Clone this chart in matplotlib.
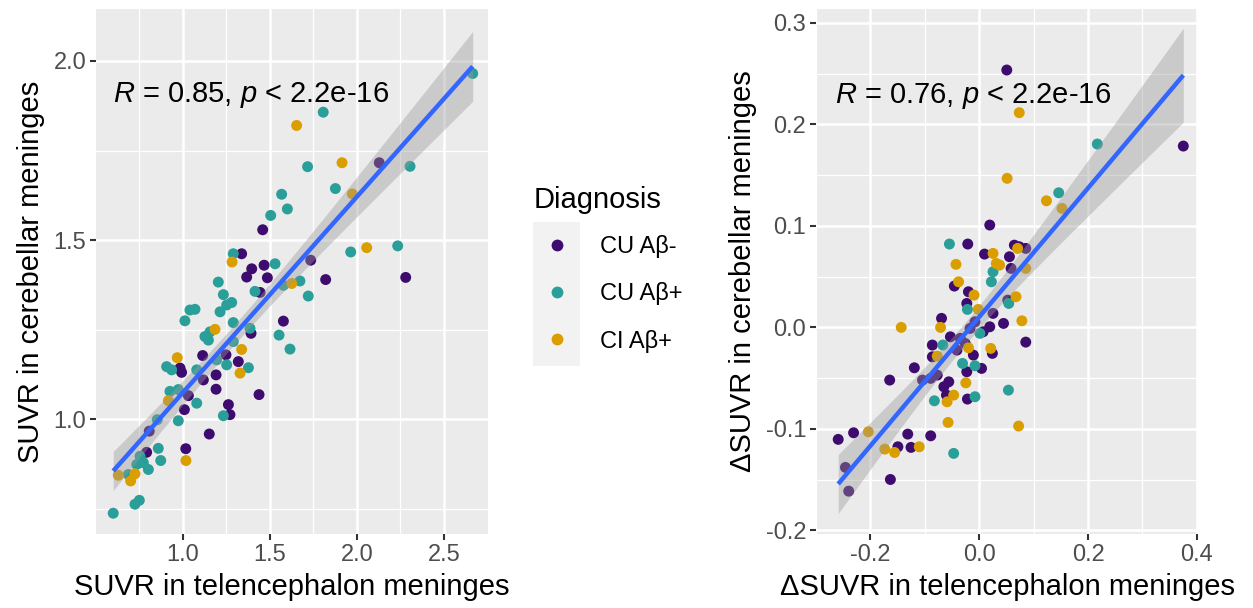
import numpy as np
import matplotlib
matplotlib.use("Agg")
import matplotlib.pyplot as plt
from matplotlib.lines import Line2D
from matplotlib.patches import Rectangle

plt.rcParams['font.family'] = ['Liberation Sans', 'DejaVu Sans']
plt.rcParams['mathtext.fontset'] = 'custom'
plt.rcParams['mathtext.it'] = 'Liberation Sans:italic'
plt.rcParams['mathtext.rm'] = 'Liberation Sans'
plt.rcParams['axes.unicode_minus'] = False

groups = ["CU Aβ-", "CU Aβ+", "CI Aβ+"]
colors = ["#3D0C6E", "#2A9E98", "#DA9E00"]

# Left panel: SUVR (telencephalon, cerebellar, group index)
left_x = [2.665, 1.806, 1.653, 1.716, 1.914, 2.128, 2.305, 1.876, 1.973, 1.567, 1.600, 1.504, 1.458,
          1.289, 1.337, 1.282, 1.395, 1.466, 1.529, 1.734, 2.056, 1.964, 2.234, 2.280, 1.203, 1.366,
          1.485, 1.672, 1.820, 1.625, 1.577, 1.232, 1.280, 1.251, 1.213, 1.414, 1.443, 1.720, 1.069,
          1.040, 1.011, 1.289, 1.577, 1.184, 1.155, 1.126, 1.146, 1.385, 1.391, 1.552, 1.615, 1.337,
          1.289, 1.113, 1.247, 1.318, 1.193, 1.251, 1.376, 0.967, 0.906, 0.935, 0.983, 0.992, 1.328,
          1.079, 1.117, 1.190, 1.190, 1.437, 0.925, 0.973, 0.916, 1.031, 1.008, 1.079, 1.261, 1.270,
          1.232, 0.973, 0.852, 0.806, 1.151, 0.791, 0.858, 0.872, 0.753, 0.772, 0.801, 0.734, 1.016,
          1.017, 0.628, 0.724, 0.699, 0.686, 0.724, 0.749, 0.599]
left_y = [1.965, 1.857, 1.820, 1.705, 1.716, 1.716, 1.706, 1.644, 1.629, 1.628, 1.587, 1.569, 1.529,
          1.462, 1.462, 1.439, 1.420, 1.430, 1.434, 1.444, 1.479, 1.467, 1.484, 1.396, 1.383, 1.397,
          1.395, 1.386, 1.390, 1.379, 1.374, 1.348, 1.326, 1.319, 1.300, 1.357, 1.354, 1.344, 1.307,
          1.305, 1.275, 1.270, 1.274, 1.251, 1.244, 1.231, 1.221, 1.254, 1.240, 1.235, 1.196, 1.195,
          1.217, 1.178, 1.180, 1.161, 1.166, 1.152, 1.144, 1.172, 1.147, 1.138, 1.143, 1.131, 1.129,
          1.138, 1.110, 1.124, 1.084, 1.069, 1.078, 1.083, 1.052, 1.066, 1.027, 1.045, 1.041, 1.013,
          1.010, 0.996, 0.999, 0.967, 0.959, 0.908, 0.919, 0.885, 0.897, 0.879, 0.860, 0.874, 0.918,
          0.885, 0.844, 0.848, 0.828, 0.846, 0.763, 0.774, 0.738]
left_g = [1, 1, 2, 1, 2, 0, 1, 1, 2, 1, 1, 1, 0,
          1, 0, 2, 0, 0, 1, 0, 2, 1, 1, 0, 1, 0,
          0, 1, 0, 2, 1, 1, 1, 1, 1, 1, 0, 1, 1,
          1, 1, 1, 0, 2, 1, 1, 1, 1, 0, 1, 1, 2,
          1, 0, 0, 0, 1, 1, 1, 2, 1, 1, 0, 0, 2,
          1, 0, 0, 0, 0, 1, 1, 2, 0, 0, 1, 0, 0,
          1, 1, 1, 0, 0, 0, 1, 1, 1, 1, 1, 1, 0,
          2, 2, 2, 2, 1, 1, 1, 1]

# Right panel: delta SUVR
right_x = [0.0506, 0.0735, 0.217, 0.375, 0.0512, 0.146, 0.1235, 0.152, 0.0193, -0.0548, -0.0211, -0.0428,
           0.0097, 0.0253, 0.0313, 0.0373, 0.0555, 0.0645, 0.0855, 0.0736, 0.0705, 0.0253, 0.0855, 0.0585,
           0.0223, -0.0380, -0.0458, -0.0199, -0.0229, -0.0096, -0.0217, -0.0018, 0.0253, 0.0524, 0.0675,
           0.0542, 0.0783, 0.0446, 0.0855, -0.1434, -0.0693, -0.0711, 0.0193, 0.0072, -0.0078, -0.0169,
           0.0012, -0.053, -0.0349, -0.0259, -0.041, -0.0669, -0.0862, -0.0862, -0.0772, -0.0199, -0.0108,
           0.0241, 0.0211, -0.0307, -0.0078, 0.0042, -0.0229, -0.1193, -0.1646, -0.1043, -0.0892, -0.0772,
           -0.056, -0.0651, -0.0603, -0.0247, 0.0536, -0.047, -0.0591, -0.0825, -0.0078, -0.0217, -0.0573,
           0.0723, -0.2592, -0.2309, -0.2038, -0.1314, -0.0892, -0.1495, -0.1254, -0.1736, -0.1555, -0.1103,
           -0.047, -0.2459, -0.1633, -0.2399]
right_y = [0.2535, 0.2115, 0.1806, 0.1786, 0.1468, 0.1326, 0.1247, 0.1172, 0.1008, 0.0821, 0.0821, 0.0621,
           0.0722, 0.0729, 0.0630, 0.0614, 0.0696, 0.0810, 0.0778, 0.0794, 0.0778, 0.0548, 0.0581, 0.0581,
           0.0449, 0.0449, 0.0407, 0.0351, 0.0236, 0.0318, 0.0177, 0.0177, 0.0138, 0.0269, 0.0302,
           0.0236, 0.0065, 0.0039, -0.0145, 0.0, 0.0089, 0.0, 0.0006, -0.0043, 0.0055, -0.0010,
           -0.0059, -0.0093, -0.0108, -0.0158, -0.0224, -0.0174, -0.0174, -0.029, -0.0283, -0.0201, -0.0273,
           -0.0256, -0.0207, -0.0355, -0.0378, -0.0404, -0.0437, -0.0398, -0.0519, -0.0519, -0.0502, -0.047,
           -0.0536, -0.0585, -0.0667, -0.0546, -0.0618, -0.0667, -0.0733, -0.0723, -0.0683, -0.0706, -0.0936,
           -0.0972, -0.1103, -0.1038, -0.1028, -0.1051, -0.1068, -0.1176, -0.1182, -0.1199, -0.1232, -0.1176,
           -0.1241, -0.1379, -0.1498, -0.1613]
right_g = [0, 2, 1, 0, 2, 1, 2, 2, 0, 1, 0, 2,
           0, 2, 2, 2, 0, 0, 0, 0, 2, 1, 2, 0,
           1, 2, 0, 0, 0, 2, 1, 2, 0, 0, 2,
           1, 2, 0, 0, 2, 0, 2, 0, 0, 0, 0,
           1, 0, 0, 0, 0, 1, 0, 0, 2, 2, 0,
           0, 2, 1, 1, 0, 0, 0, 0, 0, 0, 0,
           0, 0, 0, 2, 1, 2, 2, 1, 1, 0, 2,
           2, 0, 0, 2, 0, 0, 0, 0, 2, 2, 2,
           1, 0, 0, 0]

left_stat = "$R$ = 0.85, $p$ < 2.2e-16"
right_stat = "$R$ = 0.76, $p$ < 2.2e-16"
legend_title = "Diagnosis"

W, H = 1253, 608
fig = plt.figure(figsize=(W / 100, H / 100), dpi=100)
fig.patch.set_facecolor("white")


def fx(px):
    return px / W


def fy(py):
    return 1 - py / H


ax1 = fig.add_axes([fx(96), fy(534), fx(488 - 96), (534 - 9) / H])
ax2 = fig.add_axes([fx(816), fy(534), fx(1198 - 816), (534 - 9) / H])

TICK = 17
LAB = 21


def style(ax, xmaj, xmin, ymaj, ymin, xlim, ylim):
    ax.set_facecolor("#EBEBEB")
    for s in ax.spines.values():
        s.set_visible(False)
    ax.set_xlim(*xlim)
    ax.set_ylim(*ylim)
    ax.set_xticks(xmaj)
    ax.set_yticks(ymaj)
    ax.set_xticks(xmin, minor=True)
    ax.set_yticks(ymin, minor=True)
    ax.grid(True, which="major", color="white", linewidth=1.8)
    ax.grid(True, which="minor", color="white", linewidth=0.9)
    ax.set_axisbelow(True)
    ax.tick_params(which="major", length=4, width=1.5, color="#333333",
                   labelsize=TICK, labelcolor="#4D4D4D", pad=3)
    ax.tick_params(which="minor", length=0)


def panel(ax, x, y, g, stat, tx, ty):
    x = np.asarray(x)
    y = np.asarray(y)
    g = np.asarray(g)
    for k in range(3):
        m = g == k
        ax.scatter(x[m], y[m], s=62, color=colors[k], edgecolors="none", zorder=3)
    # linear fit with 95% CI
    n = len(x)
    b, a = np.polyfit(x, y, 1)
    xs = np.linspace(x.min(), x.max(), 100)
    yh = a + b * xs
    resid = y - (a + b * x)
    s = np.sqrt(np.sum(resid ** 2) / (n - 2))
    se = s * np.sqrt(1 / n + (xs - x.mean()) ** 2 / np.sum((x - x.mean()) ** 2))
    t = 1.98
    ax.fill_between(xs, yh - t * se, yh + t * se, color="#999999", alpha=0.4, linewidth=0, zorder=4)
    ax.plot(xs, yh, color="#3366FF", linewidth=3.2, zorder=5, solid_capstyle="butt")
    ax.text(tx, ty, stat, fontsize=LAB, color="black", ha="left", va="center", zorder=6)


panel(ax1, left_x, left_y, left_g, left_stat, 0.6, 1.905)
style(ax1, [1.0, 1.5, 2.0, 2.5], [0.75, 1.25, 1.75, 2.25], [1.0, 1.5, 2.0], [0.75, 1.25, 1.75],
      (0.5, 2.753), (0.680, 2.145))
ax1.set_xlabel("SUVR in telencephalon meninges", fontsize=LAB, labelpad=5)
ax1.set_ylabel("SUVR in cerebellar meninges", fontsize=LAB, labelpad=6)

panel(ax2, right_x, right_y, right_g, right_stat, -0.266, 0.228)
style(ax2, [-0.2, 0.0, 0.2, 0.4], [-0.3, -0.1, 0.1, 0.3],
      [-0.2, -0.1, 0.0, 0.1, 0.2, 0.3], [-0.15, -0.05, 0.05, 0.15, 0.25],
      (-0.291, 0.402), (-0.2035, 0.3136))
ax2.xaxis.set_major_formatter(matplotlib.ticker.FormatStrFormatter("%.1f"))
ax2.yaxis.set_major_formatter(matplotlib.ticker.FormatStrFormatter("%.1f"))
ax2.set_xlabel("ΔSUVR in telencephalon meninges", fontsize=LAB, labelpad=5)
ax2.set_ylabel("ΔSUVR in cerebellar meninges", fontsize=LAB, labelpad=6)

# legend
fig.text(fx(534), fy(200), legend_title, fontsize=LAB, ha="left", va="center", color="black")
fig.patches.append(Rectangle((fx(533), fy(366)), fx(580 - 533), (366 - 222) / H,
                             transform=fig.transFigure, facecolor="#F2F2F2",
                             edgecolor="none", zorder=0))
handles = [Line2D([0], [0], marker="o", linestyle="none", markersize=8.5,
                  markerfacecolor=c, markeredgecolor="none") for c in colors]
leg = fig.legend(handles, groups, loc="upper left",
                 bbox_to_anchor=(fx(535.6), fy(225.5)), frameon=False,
                 fontsize=TICK, handlelength=1.0,
                 handletextpad=1.32, labelspacing=1.03, borderaxespad=0)

fig.savefig("out.png", dpi=100, facecolor="white")
